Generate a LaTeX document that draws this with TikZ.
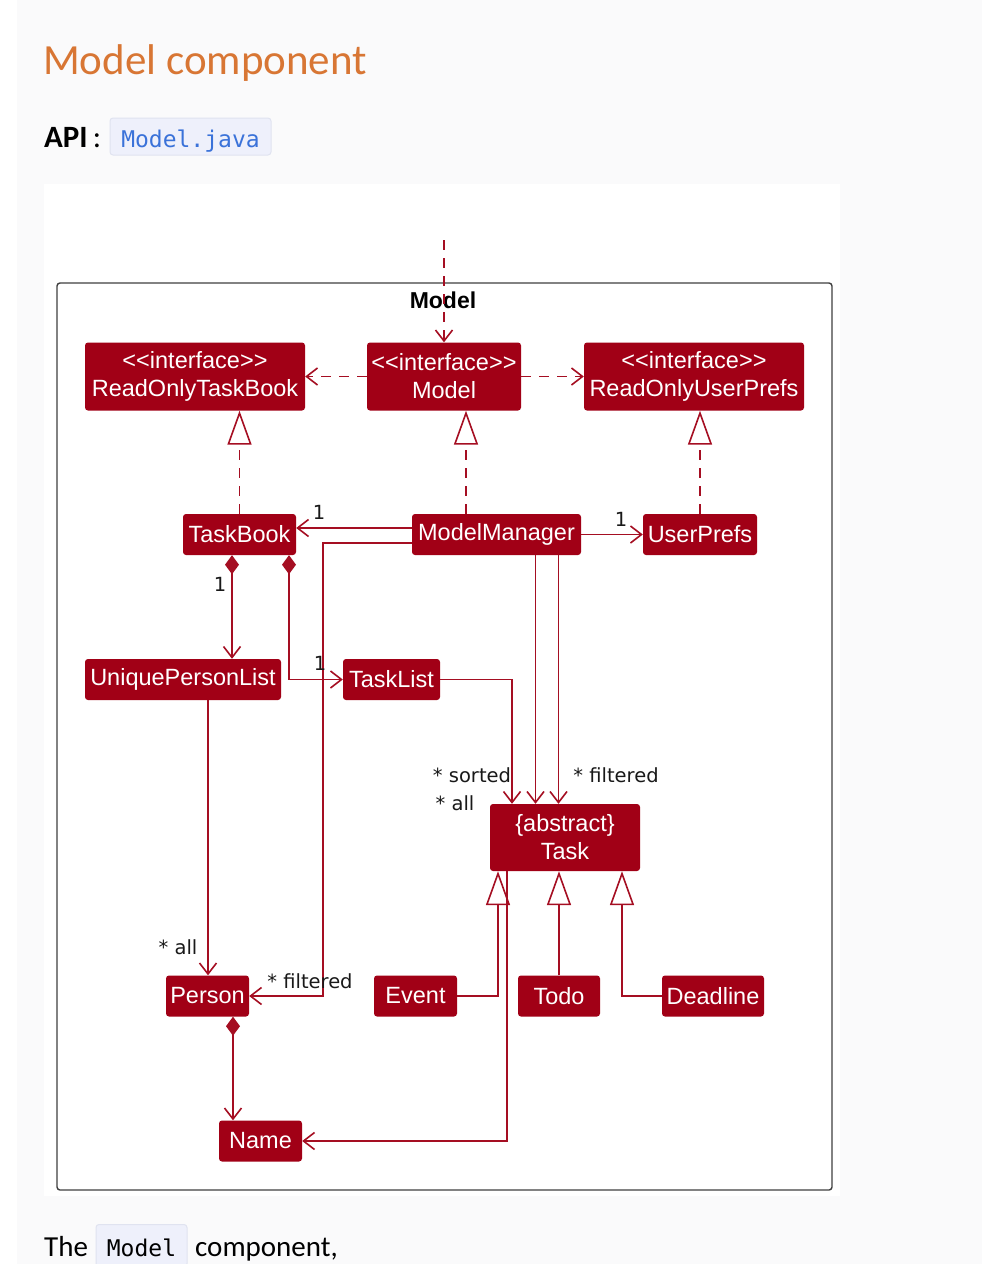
\documentclass[tikz,border=0pt]{standalone}
\usepackage{fontspec}
\usetikzlibrary{arrows.meta}
\newfontfamily\clsfont{Liberation Sans}
\newfontfamily\lblfont{DejaVu Sans}
\newfontfamily\pagefont{Carlito}
\newfontfamily\codefont{DejaVu Sans Mono}
\definecolor{ClsClr}{RGB}{161,0,22}
\definecolor{LineClr}{RGB}{165,14,34}
\definecolor{TitleClr}{RGB}{216,118,52}
\definecolor{CodeClr}{RGB}{58,114,217}
\definecolor{CodeBg}{RGB}{238,240,251}
\definecolor{CodeBd}{RGB}{224,227,240}
\definecolor{PageBg}{RGB}{250,250,251}
\newcommand\stereo{<\kern0pt<interface>\kern0pt>}

\begin{document}
\begin{tikzpicture}[x=1pt,y=-1pt,
  cls/.style={fill=ClsClr,rounded corners=3pt,text=white,inner sep=0pt,
    minimum height=41pt,align=center,font=\clsfont\fontsize{23.5}{28}\selectfont},
  ifc/.style={cls,minimum height=68pt},
  lbl/.style={inner sep=0pt,text=black!90,font=\lblfont\fontsize{19.5}{22}\selectfont},
  con/.style={draw=LineClr,line width=1.6pt},
  barb/.style={-{Straight Barb[length=11pt,width=17pt]}},
  dep/.style={con,barb,dash pattern=on 10pt off 8pt},
  assoc/.style={con,barb},
  impl/.style={con,dash pattern=on 10pt off 8pt,
    -{Triangle[open,length=34pt,width=24pt,fill=white]}},
  ext/.style={con,-{Triangle[open,length=34pt,width=24pt,fill=white]}},
  comp/.style={con,{Diamond[length=19pt,width=14pt]}-{Straight Barb[length=11pt,width=17pt]}},
  codebox/.style={fill=CodeBg,draw=CodeBd,line width=1pt,rounded corners=3pt,
    inner sep=0pt,minimum height=37pt,text height=21pt,text depth=0pt,
    font=\codefont\fontsize{23}{26}\selectfont}]

\useasboundingbox (0,0) rectangle (982,1264);
\fill[PageBg] (17,0) rectangle (982,1264);
\fill[white] (44,184) rectangle (840,1196);

\node[anchor=base west,inner sep=0pt,text=TitleClr,
  font=\pagefont\fontsize{43}{48}\selectfont] (ttl) at (43,74) {Model component};
\node[anchor=base west,inner sep=0pt,
  font=\pagefont\fontsize{31}{34}\selectfont] (api) at (44,147) {\textbf{API}\,:};
\node[codebox,minimum width=161pt,text=CodeClr] (apicode) at (190.5,136.5) {Model.java};

\node[anchor=base west,inner sep=0pt,
  font=\pagefont\fontsize{29}{34}\selectfont] (the) at (44,1256) {The};
\node[codebox,minimum width=91pt,minimum height=42pt,text=black] (modcode) at (141.5,1245.5) {Model};
\node[anchor=base west,inner sep=0pt,
  font=\pagefont\fontsize{29}{34}\selectfont] (comp) at (195,1256) {component,};

\draw[black!75,line width=1.4pt,rounded corners=3pt] (57,283) rectangle (832,1190);
\node[font=\clsfont\bfseries\fontsize{23}{28}\selectfont] (frm) at (443,300) {Model};

\node[ifc,minimum width=220pt] (RTB) at (195,376.5) {\stereo\\ReadOnlyTaskBook};
\node[ifc,minimum width=154pt] (M) at (444,376.5) {\stereo\\Model};
\node[ifc,minimum width=220pt] (RUP) at (694,376.5) {\stereo\\ReadOnlyUserPrefs};
\node[cls,minimum width=113pt] (TB) at (239.5,534.5) {TaskBook};
\node[cls,minimum width=169pt] (MM) at (496.5,534.5) {ModelManager};
\node[cls,minimum width=114pt] (UP) at (700,534.5) {UserPrefs};
\node[cls,minimum width=196pt] (UPL) at (183,679.5) {UniquePersonList};
\node[cls,minimum width=97pt] (TL) at (391.5,679.5) {TaskList};
\node[ifc,minimum width=150pt,minimum height=67pt] (T) at (565,837.5) {\{abstract\}\\Task};
\node[cls,minimum width=83pt] (P) at (207.5,996) {Person};
\node[cls,minimum width=83pt] (E) at (415.5,996) {Event};
\node[cls,minimum width=82pt] (Td) at (559,996) {Todo};
\node[cls,minimum width=102pt] (D) at (713,996) {Deadline};
\node[cls,minimum width=83pt] (N) at (260.5,1141) {Name};

\coordinate (ext) at (444,240);
\coordinate (mmP) at (323,800);

\draw[dep] (ext) -- (M.north);
\draw[dep] (M.west) -- (RTB.east);
\draw[dep] (M.east) -- (RUP.west);

\draw[impl] (TB.north) -- (TB.north |- RTB.south);
\draw[impl] ([xshift=-30.5pt]MM.north) -- ([xshift=-30.5pt]MM.north |- M.south);
\draw[impl] (UP.north) -- (UP.north |- RUP.south);

\draw[assoc] ([yshift=6.5pt]MM.west) -- ([yshift=6.5pt]MM.west -| TB.east);
\draw[assoc] ([yshift=-8.5pt]MM.west) -| (mmP) |- (P.east);
\draw[assoc] (MM.east) -- (UP.west);
\draw[assoc] ([xshift=39pt]MM.south) -- ([xshift=39pt]MM.south |- T.north);
\draw[assoc] ([xshift=62pt]MM.south) -- ([xshift=62pt]MM.south |- T.north);

\draw[comp] ([xshift=-7.5pt]TB.south) -- ([xshift=-7.5pt]TB.south |- UPL.north);
\draw[comp] ([xshift=49.5pt]TB.south) |- (TL.west);
\draw[assoc] (TL.east) -| ([xshift=-53pt]T.north);
\draw[assoc] ([xshift=25pt]UPL.south) -- ([xshift=25pt]UPL.south |- P.north);

\draw[ext] (E.east) -| ([xshift=-67pt]T.south);
\draw[ext] (Td.north) -- (Td.north |- T.south);
\draw[ext] (D.west) -| ([xshift=57pt]T.south);

\draw[assoc] ([xshift=-58pt]T.south) |- (N.east);
\draw[comp] ([xshift=25.5pt]P.south) -- ([xshift=25.5pt]P.south |- N.north);

\node[lbl] (l1) at (319,512) {1};
\node[lbl] (l2) at (220,584) {1};
\node[lbl] (l3) at (320,663) {1};
\node[lbl] (l4) at (621,519) {1};
\node[lbl] (l5) at (472,775) {* sorted};
\node[lbl] (l6) at (455,803) {* all};
\node[lbl] (l7) at (616,775) {* filtered};
\node[lbl] (l8) at (178,947) {* all};
\node[lbl] (l9) at (310,981) {* filtered};

\end{tikzpicture}
\end{document}
